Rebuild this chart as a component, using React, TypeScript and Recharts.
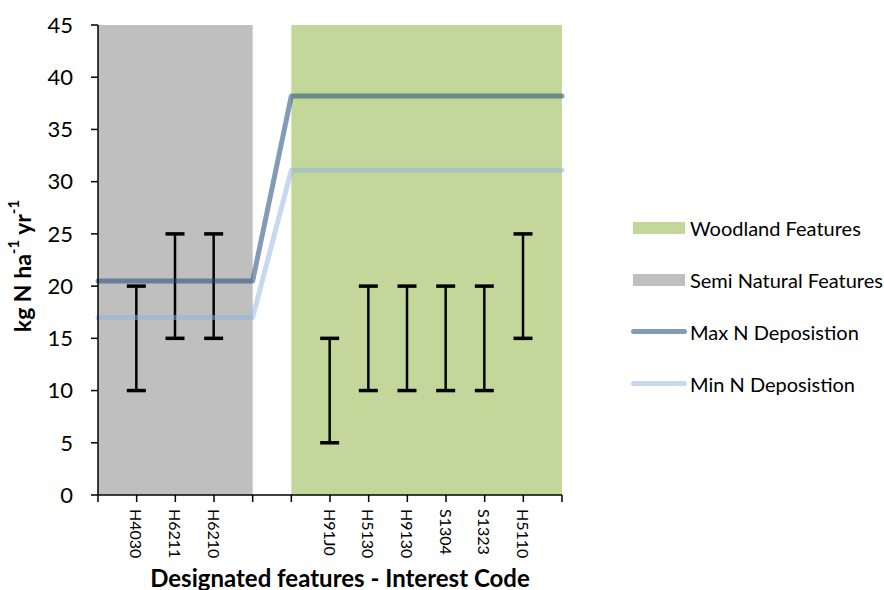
import React from 'react';
import {
  ComposedChart, Line, Bar, XAxis, YAxis, ReferenceArea,
} from 'recharts';

// x positions 0..12, blank codes are spacer slots
const codes = ['', 'H4030', 'H6211', 'H6210', '', '', 'H91J0', 'H5130', 'H9130', 'S1304', 'S1323', 'H5110', ''];
const maxDeposition = [20.5, 20.5, 20.5, 20.5, 20.5, 38.2, 38.2, 38.2, 38.2, 38.2, 38.2, 38.2, 38.2];
const minDeposition = [17, 17, 17, 17, 17, 31.1, 31.1, 31.1, 31.1, 31.1, 31.1, 31.1, 31.1];
const loadLow = [null, 10, 15, 15, null, null, 5, 10, 10, 10, 10, 15, null];
const loadHigh = [null, 20, 25, 25, null, null, 15, 20, 20, 20, 20, 25, null];

const semiNaturalSpan = [0, 4];
const woodlandSpan = [5, 12];
const yTicks = [0, 5, 10, 15, 20, 25, 30, 35, 40, 45];

const FONT = 'Lato, "Open Sans", sans-serif';
const GREEN = '#c4d79b';
const GREY = '#bfbfbf';
const MAX_COL = '#1f497d';
const MIN_COL = '#8db3e2';

const data = codes.map((code, i) => ({
  pos: i,
  code,
  max: maxDeposition[i],
  min: minDeposition[i],
  load: loadLow[i] == null ? null : [loadLow[i], loadHigh[i]],
}));

const legendItems = [
  { name: 'Woodland Features', kind: 'box', color: GREEN, opacity: 1 },
  { name: 'Semi Natural Features', kind: 'box', color: GREY, opacity: 1 },
  { name: 'Max N Deposistion', kind: 'line', color: MAX_COL, opacity: 0.55 },
  { name: 'Min N Deposistion', kind: 'line', color: MIN_COL, opacity: 0.5 },
];

const CodeTick = (props: any) => {
  const { x, y, payload } = props;
  const label = codes[payload.value] || '';
  if (!label) return null;
  return (
    <text
      x={0}
      y={0}
      transform={`translate(${x},${y + 5}) rotate(90)`}
      textAnchor="start"
      dominantBaseline="central"
      fontSize={16}
      fontFamily={FONT}
      fill="#000"
    >
      {label}
    </text>
  );
};

const ErrorShape = (props: any) => {
  const { x, y, width, height } = props;
  if (height == null || isNaN(height)) return null;
  const cx = x + width / 2;
  return (
    <g stroke="#000">
      <line x1={cx} x2={cx} y1={y} y2={y + height} strokeWidth={2.5} />
      <line x1={cx - 9.5} x2={cx + 9.5} y1={y} y2={y} strokeWidth={3.5} />
      <line x1={cx - 9.5} x2={cx + 9.5} y1={y + height} y2={y + height} strokeWidth={3.5} />
    </g>
  );
};

const YTitle = (props: any) => {
  const { viewBox } = props;
  const cx = viewBox.x + 22;
  const cy = viewBox.y + viewBox.height / 2 + 6;
  return (
    <text
      transform={`translate(${cx},${cy}) rotate(-90)`}
      textAnchor="middle"
      dominantBaseline="central"
      fontSize={23}
      fontWeight="bold"
      fontFamily={FONT}
      fill="#000"
    >
      kg N ha<tspan dy={-9} fontSize={15}>-1</tspan>
      <tspan dy={9}> yr</tspan>
      <tspan dy={-9} fontSize={15}>-1</tspan>
    </text>
  );
};

const XTitle = (props: any) => {
  const { viewBox } = props;
  return (
    <text
      x={viewBox.x + viewBox.width / 2 + 10}
      y={viewBox.y + 82}
      textAnchor="middle"
      dominantBaseline="central"
      fontSize={24}
      fontWeight="bold"
      fontFamily={FONT}
      fill="#000"
    >
      Designated features - Interest Code
    </text>
  );
};

export default function App() {
  return (
    <div style={{ position: 'absolute', left: 0, top: 0, width: 884, height: 590, background: '#fff', fontFamily: FONT }}>
      <ComposedChart width={884} height={590} data={data} margin={{ top: 25, right: 322, bottom: 0, left: 0 }}>
        <ReferenceArea x1={semiNaturalSpan[0]} x2={semiNaturalSpan[1]} y1={0} y2={45} fill={GREY} fillOpacity={1} stroke="none" />
        <ReferenceArea x1={woodlandSpan[0]} x2={woodlandSpan[1]} y1={0} y2={45} fill={GREEN} fillOpacity={1} stroke="none" />
        <XAxis
          dataKey="pos"
          type="number"
          domain={[0, 12]}
          ticks={codes.map((_, i) => i)}
          interval={0}
          height={95}
          tickSize={7}
          tick={<CodeTick />}
          stroke="#000"
          axisLine={{ stroke: '#000', strokeWidth: 1.5 }}
          tickLine={{ stroke: '#000', strokeWidth: 1.5 }}
          label={{ content: <XTitle /> }}
        />
        <YAxis
          type="number"
          domain={[0, 45]}
          ticks={yTicks}
          interval={0}
          width={98}
          tickSize={7}
          tickMargin={18}
          tick={{ fontSize: 22, fill: '#000', fontFamily: FONT }}
          axisLine={{ stroke: '#000', strokeWidth: 1.5 }}
          tickLine={{ stroke: '#000', strokeWidth: 1.5 }}
          label={{ content: <YTitle /> }}
        />
        <Line
          dataKey="max"
          type="linear"
          stroke={MAX_COL}
          strokeOpacity={0.55}
          strokeWidth={5}
          strokeLinejoin="round"
          strokeLinecap="round"
          dot={false}
          activeDot={false}
          isAnimationActive={false}
        />
        <Line
          dataKey="min"
          type="linear"
          stroke={MIN_COL}
          strokeOpacity={0.5}
          strokeWidth={5}
          strokeLinejoin="round"
          strokeLinecap="round"
          dot={false}
          activeDot={false}
          isAnimationActive={false}
        />
        <Bar dataKey="load" barSize={20} shape={<ErrorShape />} isAnimationActive={false} />
      </ComposedChart>
      <div style={{ position: 'absolute', left: 630, top: 214, width: 254 }}>
        {legendItems.map((item) => (
          <div key={item.name} style={{ height: 52, display: 'flex', alignItems: 'flex-start' }}>
            <div style={{ width: 60, height: 28, position: 'relative' }}>
              {item.kind === 'box' ? (
                <div style={{ position: 'absolute', left: 3, top: 8, width: 52, height: 12, background: item.color }} />
              ) : (
                <div style={{ position: 'absolute', left: 1, top: 11, width: 56, height: 5, borderRadius: 3, background: item.color, opacity: item.opacity }} />
              )}
            </div>
            <span style={{ fontSize: 20, lineHeight: '28px', color: '#000', whiteSpace: 'nowrap' }}>{item.name}</span>
          </div>
        ))}
      </div>
    </div>
  );
}
